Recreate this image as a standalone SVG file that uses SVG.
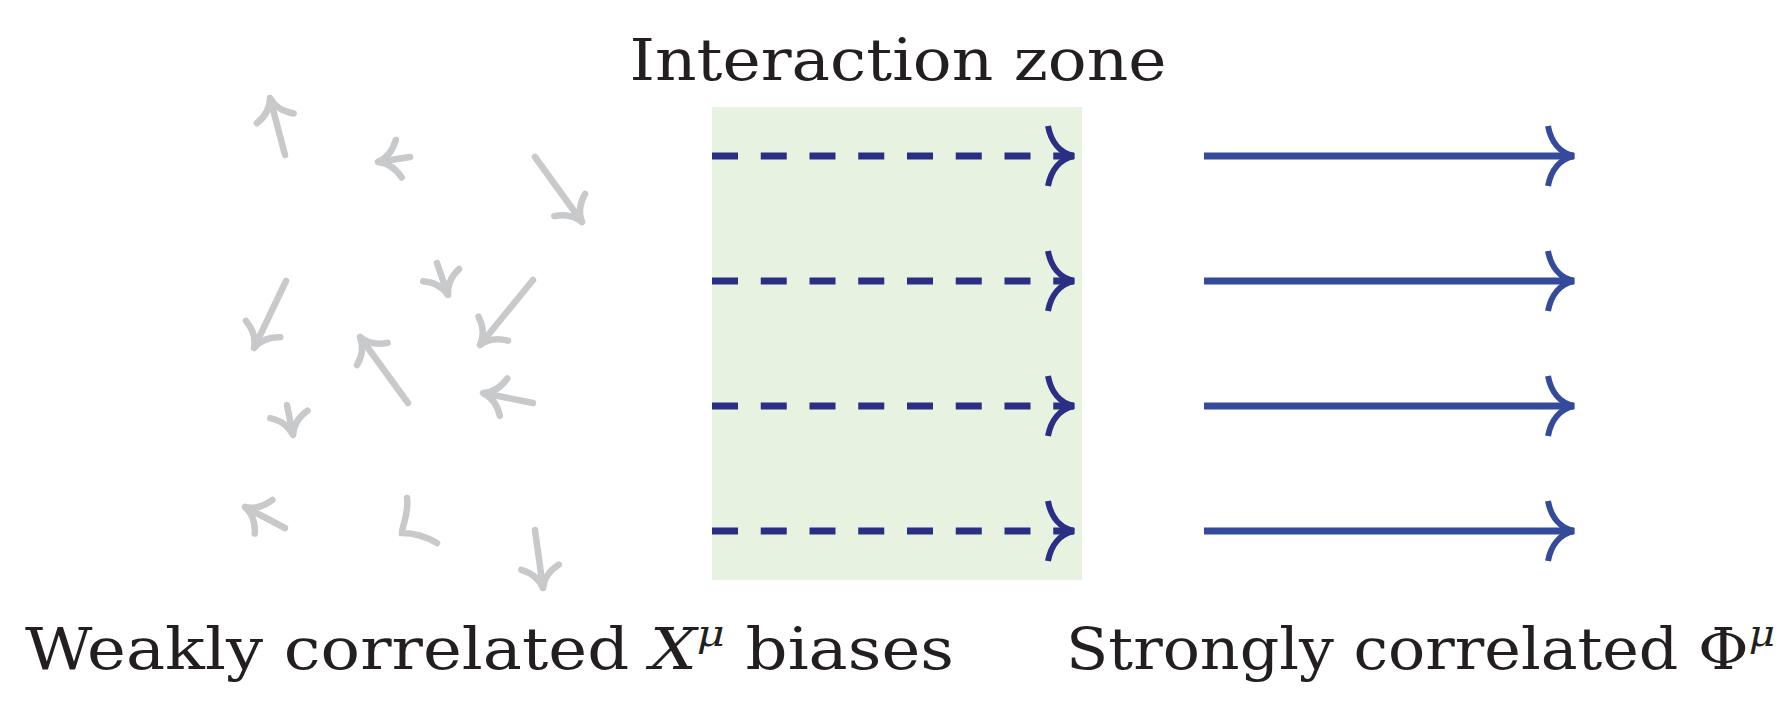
<svg xmlns="http://www.w3.org/2000/svg" width="1792" height="719" viewBox="0 0 1792 719">
<style>
.t{font-family:"DejaVu Serif","Liberation Serif",serif;font-size:58px;fill:#231f20}
.g{stroke:#c8c9cb;stroke-width:6.5;fill:none;stroke-linecap:round}
.d{stroke:#2b2e85;stroke-width:7;stroke-dasharray:26 22.75;fill:none}
.s{stroke:#344a9a;stroke-width:7;fill:none}
</style>
<defs>
<marker id="mg" markerUnits="userSpaceOnUse" orient="auto" overflow="visible" markerWidth="1" markerHeight="1">
<path d="M-21,-19 C-16,-8 -8,-2 0,0 C-8,2 -16,8 -21,19" fill="none" stroke="#c8c9cb" stroke-width="6.5" stroke-linecap="round"/>
</marker>
<marker id="mb" markerUnits="userSpaceOnUse" orient="auto" overflow="visible" markerWidth="1" markerHeight="1">
<path d="M-26,-30 C-23,-14 -14,-3 0,0 C-14,3 -23,14 -26,30" fill="none" stroke="#2b2e85" stroke-width="6"/>
</marker>
<marker id="ms" markerUnits="userSpaceOnUse" orient="auto" overflow="visible" markerWidth="1" markerHeight="1">
<path d="M-26,-30 C-23,-14 -14,-3 0,0 C-14,3 -23,14 -26,30" fill="none" stroke="#344a9a" stroke-width="6"/>
</marker>
</defs>
<rect id="zone" x="712" y="107" width="370" height="473" fill="#e7f2e1"/>
<g id="title"><text class="t" x="898" y="80" text-anchor="middle" textLength="537" lengthAdjust="spacingAndGlyphs">Interaction zone</text></g>
<g id="connectors">
<g marker-end="url(#mg)" class="g">
<line x1="285" y1="155" x2="270" y2="98"/>
<line x1="410" y1="157" x2="378" y2="162"/>
<line x1="535" y1="157" x2="582" y2="222"/>
<line x1="286" y1="281" x2="254" y2="348"/>
<line x1="437" y1="263" x2="448" y2="295"/>
<line x1="533" y1="280" x2="480" y2="345"/>
<line x1="408" y1="403" x2="360" y2="337"/>
<line x1="533" y1="403" x2="483" y2="393"/>
<line x1="287" y1="405" x2="293" y2="435"/>
<line x1="285" y1="528" x2="245" y2="507"/>
<line x1="535" y1="530" x2="543" y2="588"/>
</g>
<path class="g" d="M407,498 C409,515 402,525 402,533 C412,533 425,536 437,543"/>
<g class="d" marker-end="url(#mb)">
<line x1="712" y1="156" x2="1074" y2="156"/>
<line x1="712" y1="281" x2="1074" y2="281"/>
<line x1="712" y1="406" x2="1074" y2="406"/>
<line x1="712" y1="531" x2="1074" y2="531"/>
</g>
<g class="s" marker-end="url(#ms)">
<line x1="1204" y1="156" x2="1574" y2="156"/>
<line x1="1204" y1="281" x2="1574" y2="281"/>
<line x1="1204" y1="406" x2="1574" y2="406"/>
<line x1="1204" y1="531" x2="1574" y2="531"/>
</g>
</g>
<g id="labels">
<text class="t" x="25" y="669" textLength="929" lengthAdjust="spacingAndGlyphs">Weakly correlated <tspan font-style="italic">X</tspan><tspan font-style="italic" font-size="38" dy="-23">μ</tspan><tspan dy="23"> biases</tspan></text>
<text class="t" x="1066" y="669" textLength="709" lengthAdjust="spacingAndGlyphs">Strongly correlated Φ<tspan font-style="italic" font-size="38" dy="-23">μ</tspan></text>
</g>
</svg>
